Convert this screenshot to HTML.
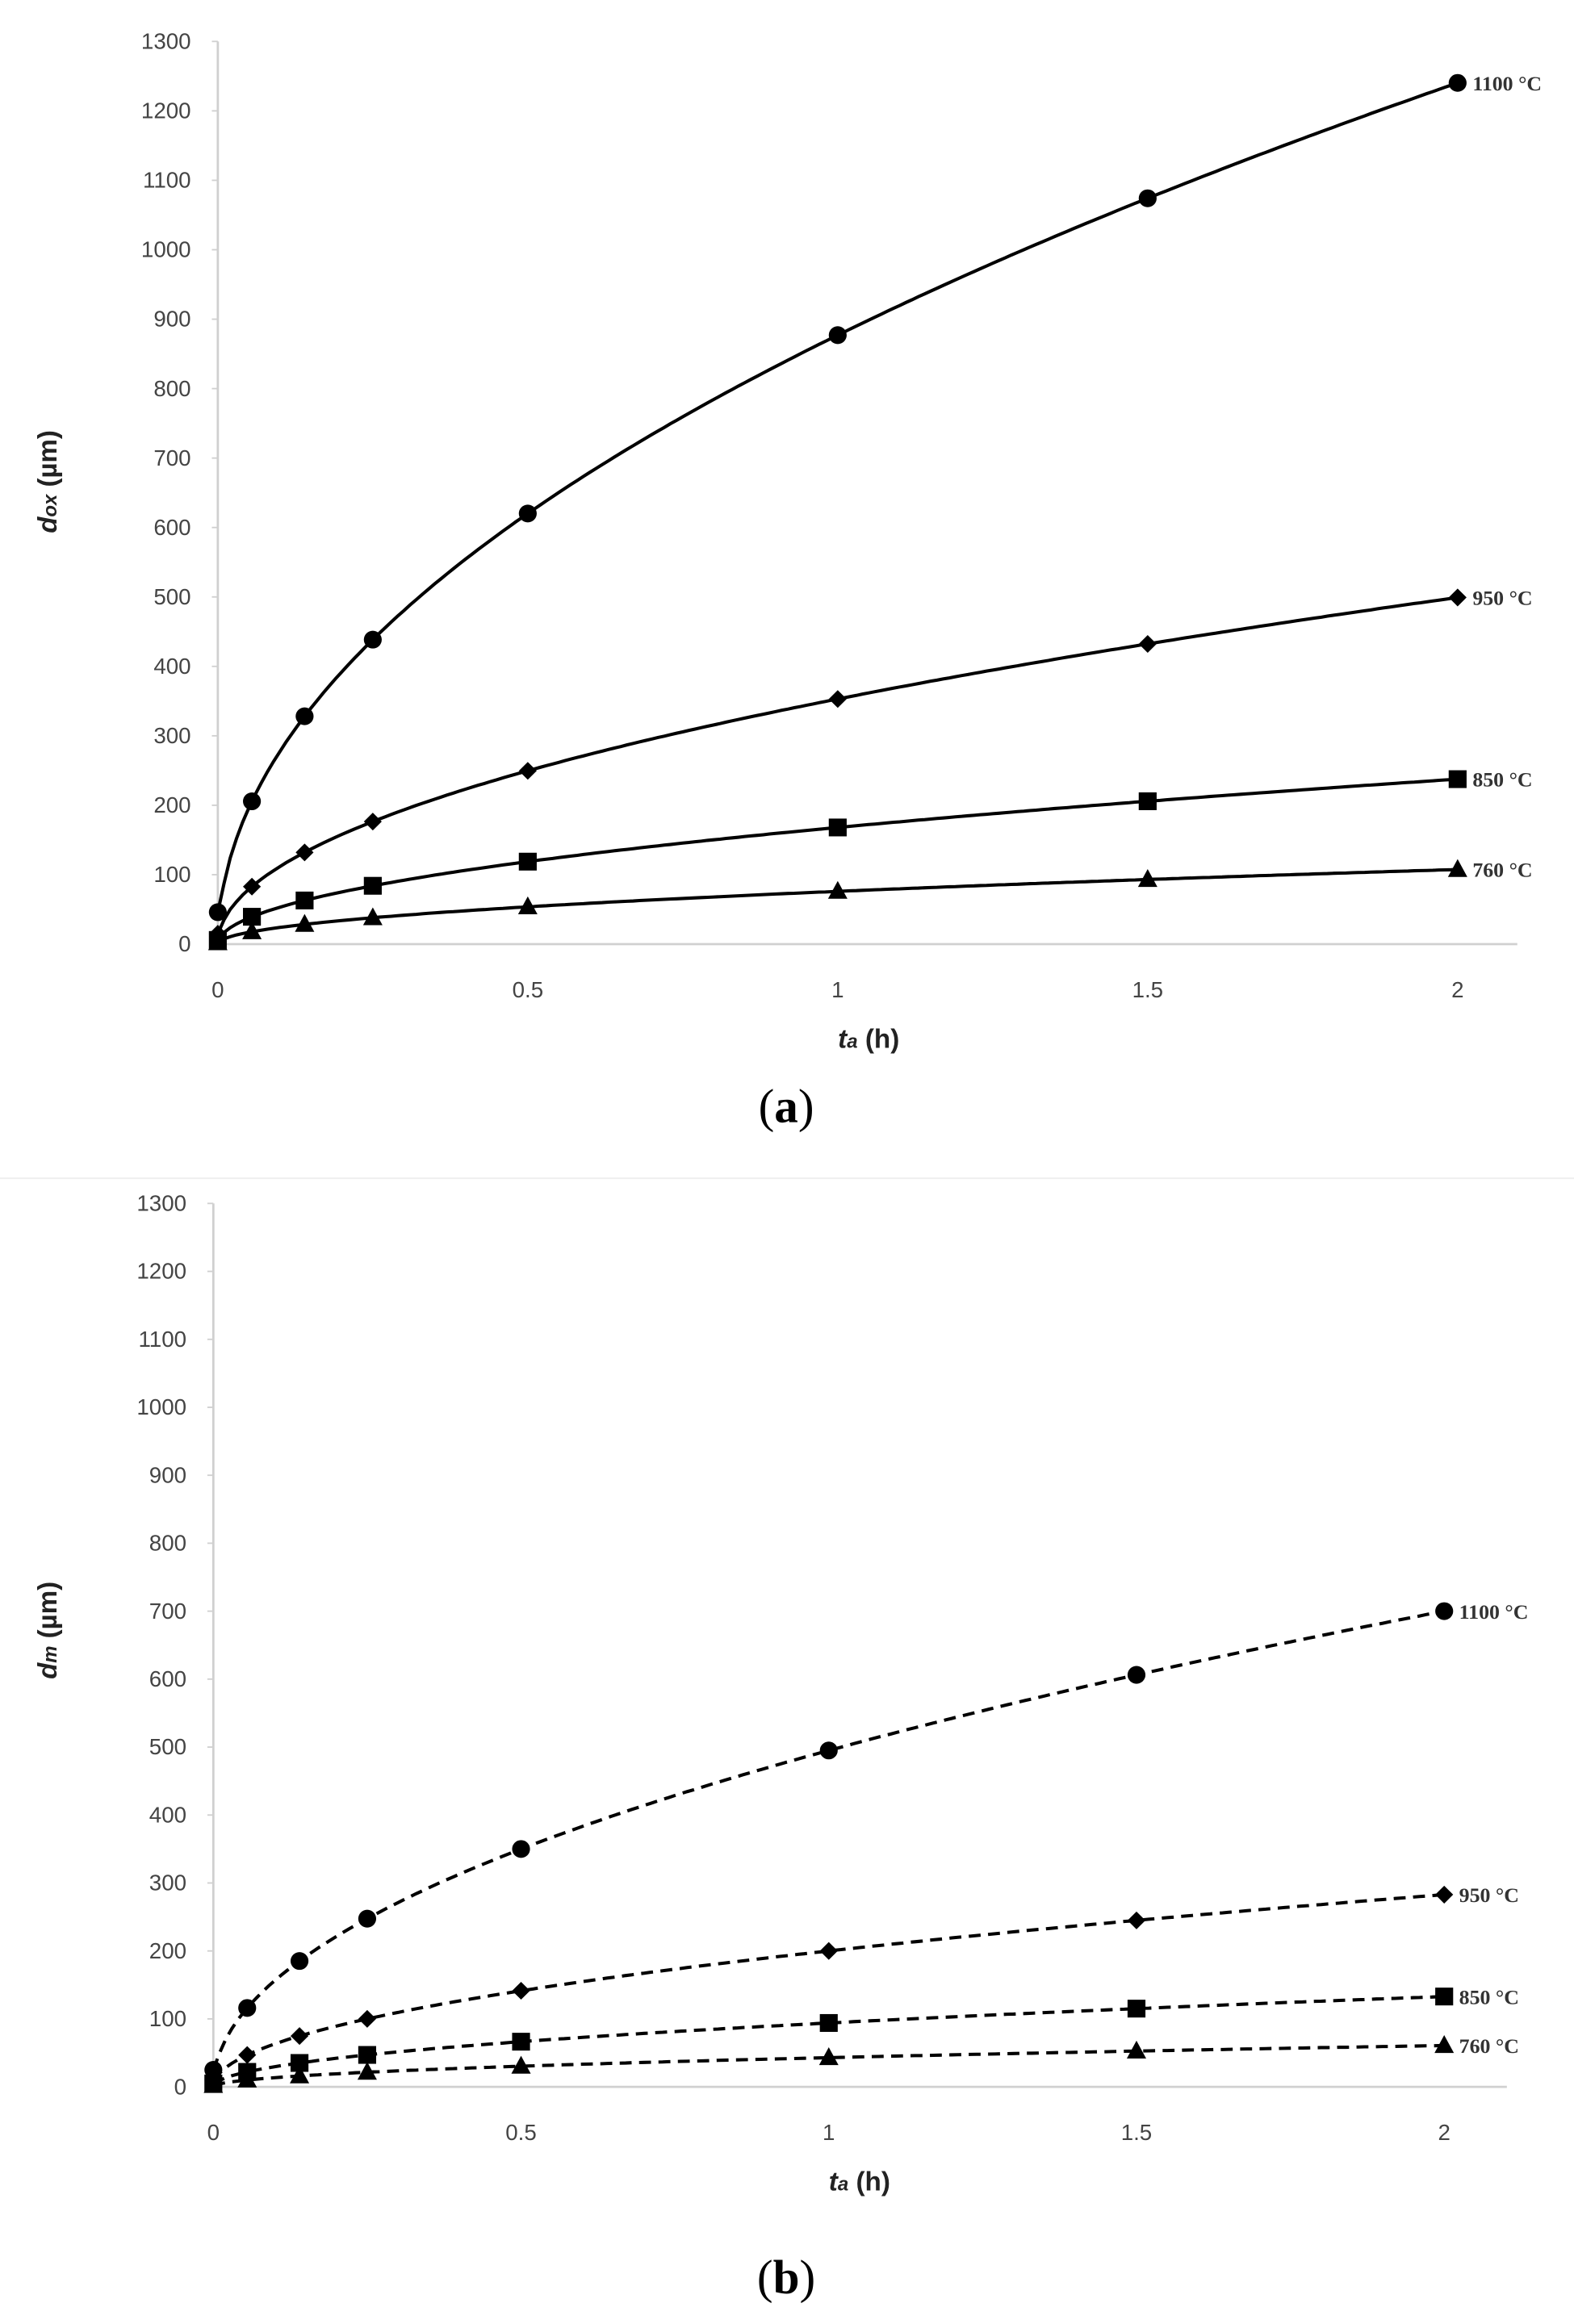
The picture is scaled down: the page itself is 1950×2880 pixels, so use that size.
<!DOCTYPE html>
<html><head><meta charset="utf-8"><style>
html,body{margin:0;padding:0;background:#fff;}
svg{display:block;}
.tk{font-family:"Liberation Sans",sans-serif;font-size:15px;fill:#444;}
.lb{font-family:"Liberation Serif",serif;font-size:14px;font-weight:bold;fill:#333;}
.ax{font-family:"Liberation Sans",sans-serif;font-size:18px;font-weight:bold;fill:#222;}
.cap{font-family:"Liberation Serif",serif;font-size:32px;fill:#000;}
</style></head><body>
<svg id="s" width="1950" height="2880" viewBox="0 0 1055 1568" preserveAspectRatio="none" xmlns="http://www.w3.org/2000/svg">
<line x1="0" y1="795" x2="1055" y2="795" stroke="#eee" stroke-width="1"/>
<text class="cap" x="527" y="757" text-anchor="middle">(<tspan font-weight="bold">a</tspan>)</text>
<text class="cap" x="527" y="1547" text-anchor="middle">(<tspan font-weight="bold">b</tspan>)</text>
</svg>
<script>
var s=document.getElementById('s'),NS='http://www.w3.org/2000/svg';
function el(t,a,txt){var e=document.createElementNS(NS,t);for(var k in a)e.setAttribute(k,a[k]);if(txt!=null)e.textContent=txt;s.appendChild(e);return e;}
function chart(c){
 var X=function(t){return c.x0+t*c.xs},Y=function(v){return c.y0-v*c.ys/100};
 el('line',{x1:c.x0,y1:Y(1300),x2:c.x0,y2:c.y0,stroke:'#d0d0d0','stroke-width':1.5});
 el('line',{x1:c.x0,y1:c.y0,x2:c.xe,y2:c.y0,stroke:'#d0d0d0','stroke-width':1.5});
 for(var v=0;v<=1300;v+=100){el('text',{class:'tk',x:c.x0-18,y:Y(v)+5,'text-anchor':'end'},v);
  el('line',{x1:c.x0-4,y1:Y(v),x2:c.x0,y2:Y(v),stroke:'#d0d0d0'});}
 [0,0.5,1,1.5,2].forEach(function(t){el('text',{class:'tk',x:X(t),y:c.y0+36,'text-anchor':'middle'},t);});
 var tt=el('text',{class:'ax',x:X(1.05),y:c.y0+70,'text-anchor':'middle'});tt.innerHTML='<tspan font-style="italic">t<tspan font-size="13">a</tspan></tspan> (h)';
 var yt=el('text',{class:'ax',transform:'translate(38,'+c.ym+') rotate(-90)','text-anchor':'middle'});yt.innerHTML='<tspan font-style="italic">d<tspan font-size="13">'+c.sub+'</tspan></tspan> (µm)';
 var ts=[0,0.055,0.14,0.25,0.5,1,1.5,2];
 c.series.forEach(function(se){
  var k=se.k,f=function(t){return t==0?se.z:k*Math.sqrt(t)};
  var pts=[[X(0),Y(se.z)]];
  for(var t=0.01;t<=2.0001;t+=0.01)pts.push([X(t),Y(k*Math.sqrt(t))]);
  var a={points:pts.map(function(p){return p[0].toFixed(1)+','+p[1].toFixed(1)}).join(' '),fill:'none',stroke:'#000','stroke-width':2.2};
  if(c.dash)a['stroke-dasharray']='8,5';
  el('polyline',a);
  ts.forEach(function(t){var x=X(t),y=Y(f(t));
   if(se.m=='c')el('circle',{cx:x,cy:y,r:6});
   else if(se.m=='d')el('polygon',{points:(x-6)+','+y+' '+x+','+(y-6)+' '+(x+6)+','+y+' '+x+','+(y+6)});
   else if(se.m=='s')el('rect',{x:x-6,y:y-6,width:12,height:12});
   else el('polygon',{points:(x-6.5)+','+(y+5)+' '+(x+6.5)+','+(y+5)+' '+x+','+(y-7)});
  });
  el('text',{class:'lb',x:X(2)+10,y:Y(f(2))+5},se.n+' °C');
 });
}
chart({x0:146,xs:415.5,xe:1017,y0:637,ys:46.85,ym:325,sub:'ox',dash:false,series:[
 {k:877,z:46,m:'c',n:'1100'},{k:353,z:15,m:'d',n:'950'},{k:168,z:6,m:'s',n:'850'},{k:76,z:2,m:'t',n:'760'}]});
chart({x0:143,xs:412.5,xe:1010,y0:1408,ys:45.85,ym:1100,sub:'m',dash:true,series:[
 {k:495,z:25,m:'c',n:'1100'},{k:200,z:10,m:'d',n:'950'},{k:94,z:5,m:'s',n:'850'},{k:43,z:2,m:'t',n:'760'}]});
</script>
</body></html>
